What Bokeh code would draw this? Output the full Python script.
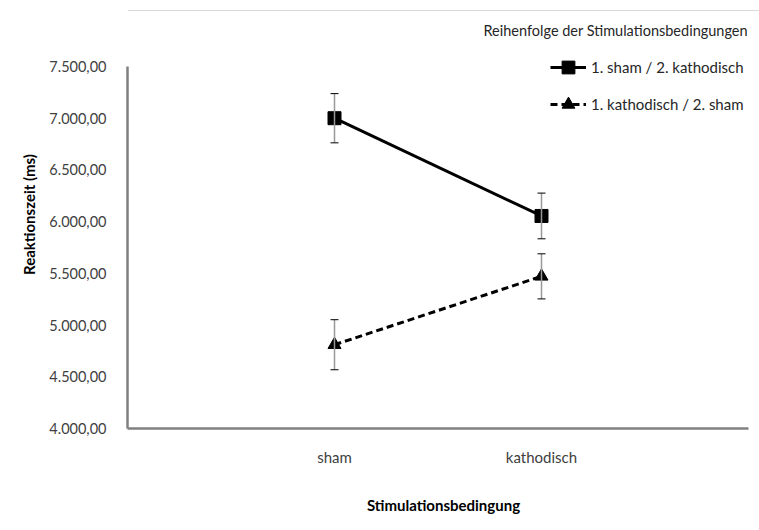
from bokeh.plotting import figure
from bokeh.models import (Range1d, FixedTicker, Whisker, TeeHead, ColumnDataSource,
                          Legend, LegendItem, Label, Span)
from bokeh.embed import file_html
from bokeh.resources import INLINE

categories = ["sham", "kathodisch"]
x_pos = [0, 1]
series1_name = "1. sham / 2. kathodisch"
series1 = [7000, 6055]
series1_err = [238, 221]
series2_name = "1. kathodisch / 2. sham"
series2 = [4810, 5471]
series2_err = [242, 218]
y_ticks = [4000, 4500, 5000, 5500, 6000, 6500, 7000, 7500]
y_tick_labels = ["4.000,00", "4.500,00", "5.000,00", "5.500,00",
                 "6.000,00", "6.500,00", "7.000,00", "7.500,00"]
legend_title = "Reihenfolge der Stimulationsbedingungen"
x_title = "Stimulationsbedingung"
y_title = "Reaktionszeit (ms)"

FONT = "Lato"

# axis spans (drawn with bounds); frame extends to the top/right so the legend fits
y_lo, y_hi = 4000, 7500
x_lo, x_hi = -1, 2
px_per_y = 362 / (y_hi - y_lo)
px_per_x = 621 / (x_hi - x_lo)

p = figure(width=759, height=530, output_backend="svg", toolbar_location=None,
           x_range=Range1d(x_lo, x_hi + 11 / px_per_x),
           y_range=Range1d(y_lo, y_hi + 66 / px_per_y),
           min_border_left=127, min_border_right=0, min_border_top=0,
           min_border_bottom=102)
p.outline_line_color = None
p.grid.visible = False
p.background_fill_color = "white"
p.border_fill_color = "white"

# chart border (top edge)
p.add_layout(Span(location=y_hi + 56 / px_per_y, dimension="width",
                  line_color="#d9d9d9", line_width=1))

for ax in (p.xaxis[0], p.yaxis[0]):
    ax.axis_line_color = "#808080"
    ax.axis_line_width = 2.5
    ax.major_tick_line_color = None
    ax.minor_tick_line_color = None
    ax.major_label_text_font = FONT
    ax.major_label_text_font_size = "14.5px"
    ax.major_label_text_color = "#404040"
    ax.axis_label_text_font = FONT
    ax.axis_label_text_font_size = "15px"
    ax.axis_label_text_font_style = "bold"
    ax.axis_label_text_color = "black"

p.xaxis.bounds = (x_lo, x_hi)
p.xaxis.ticker = FixedTicker(ticks=x_pos)
p.xaxis.major_label_overrides = {x: c for x, c in zip(x_pos, categories)}
p.xaxis.major_label_text_font_size = "15px"
p.xaxis.major_label_standoff = 13
p.xaxis.axis_label = x_title
p.xaxis.axis_label_standoff = 27

p.yaxis.bounds = (y_lo, y_hi)
p.yaxis.ticker = FixedTicker(ticks=y_ticks)
p.yaxis.major_label_overrides = {t: l for t, l in zip(y_ticks, y_tick_labels)}
p.yaxis.major_label_standoff = 15
p.yaxis.axis_label = y_title
p.yaxis.axis_label_standoff = 8

src1 = ColumnDataSource(dict(x=x_pos, y=series1,
                             lo=[v - e for v, e in zip(series1, series1_err)],
                             hi=[v + e for v, e in zip(series1, series1_err)]))
src2 = ColumnDataSource(dict(x=x_pos, y=series2,
                             lo=[v - e for v, e in zip(series2, series2_err)],
                             hi=[v + e for v, e in zip(series2, series2_err)]))

for src in (src1, src2):
    w = Whisker(source=src, base="x", upper="hi", lower="lo",
                line_color="#999999", line_width=1.5,
                upper_head=TeeHead(size=8, line_color="black", line_width=1),
                lower_head=TeeHead(size=8, line_color="black", line_width=1),
                level="glyph")
    p.add_layout(w)

l1 = p.line("x", "y", source=src1, line_color="black", line_width=3)
m1 = p.scatter("x", "y", source=src1, marker="square", size=13,
               fill_color="black", line_color="black")
l2 = p.line("x", "y", source=src2, line_color="black", line_width=3,
            line_dash="7 4")
m2 = p.scatter("x", "y", source=src2, marker="triangle", size=13,
               fill_color="black", line_color="black")

legend = Legend(items=[LegendItem(label=series1_name, renderers=[l1, m1]),
                       LegendItem(label=series2_name, renderers=[l2, m2])],
                location=(423, 308), orientation="vertical",
                padding=0, margin=0, spacing=5, glyph_height=32, glyph_width=36,
                label_standoff=5, label_text_font=FONT, label_text_font_size="15px",
                label_text_color="#262626",
                border_line_color=None, background_fill_alpha=0)
p.add_layout(legend, "center")

p.add_layout(Label(x=356, y=398, x_units="screen", y_units="screen",
                   text=legend_title, text_font=FONT, text_font_size="14.5px",
                   text_color="#262626", text_baseline="middle"))

open("out.html", "w").write(file_html(p, INLINE))
